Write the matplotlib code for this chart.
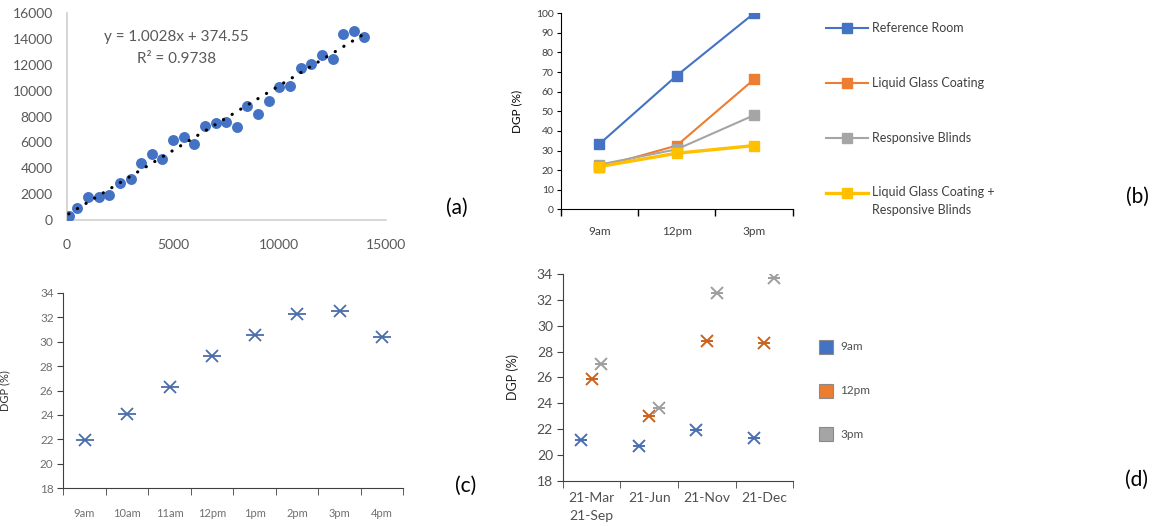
import numpy as np
import matplotlib
matplotlib.use("Agg")
import matplotlib.pyplot as plt
from matplotlib.patches import Rectangle
from matplotlib.lines import Line2D

plt.rcParams['font.family'] = ['Lato', 'DejaVu Sans']

# (a) measured vs simulated scatter
a_x = [100, 500, 1000, 1500, 2000, 2500, 3000, 3500, 4000, 4500, 5000, 5500, 6000, 6500, 7000,
       7500, 8000, 8500, 9000, 9500, 10000, 10500, 11000, 11500, 12000, 12500, 13000, 13500, 14000]
a_y = [300, 900, 1800, 1800, 1900, 2900, 3200, 4400, 5100, 4700, 6200, 6400, 5900, 7300, 7500,
       7600, 7200, 8800, 8200, 9200, 10300, 10400, 11800, 12100, 12800, 12500, 14400, 14600, 14200]
a_slope, a_icept, a_r2 = 1.0028, 374.55, 0.9738

# (b) DGP by time for four scenarios
b_times = ['9am', '12pm', '3pm']
b_series = ['Reference Room', 'Liquid Glass Coating', 'Responsive Blinds',
            'Liquid Glass Coating +\nResponsive Blinds']
b_values = [[33.3, 68.2, 100.0],
            [21.5, 32.5, 66.3],
            [22.8, 30.6, 48.0],
            [21.8, 28.6, 32.5]]
b_colors = ['#4472C4', '#ED7D31', '#A5A5A5', '#FFC000']

# (c) hourly DGP
c_hours = ['9am', '10am', '11am', '12pm', '1pm', '2pm', '3pm', '4pm']
c_dgp = [21.95, 24.08, 26.25, 28.8, 30.58, 32.28, 32.5, 30.4]

# (d) DGP by date and time
d_dates = ['21-Mar\n21-Sep', '21-Jun', '21-Nov', '21-Dec']
d_times = ['9am', '12pm', '3pm']
d_values = [[21.15, 20.68, 21.95, 21.28],
            [25.85, 23.0, 28.8, 28.65],
            [27.03, 23.6, 32.5, 33.72]]
d_marker_colors = ['#4A6FB0', '#C9621C', '#9E9E9E']
d_legend_colors = ['#4472C4', '#ED7D31', '#A5A5A5']

W, H = 1159, 526
fig = plt.figure(figsize=(W / 100, H / 100), dpi=100)


def px_axes(left, top, right, bottom):
    return fig.add_axes([left / W, 1 - bottom / H, (right - left) / W, (bottom - top) / H])


def fx(x):
    return x / W


def fy(y):
    return 1 - y / H


# ---------- (a) ----------
ax = px_axes(66.7, 13.3, 385.7, 220)
ax.scatter(a_x, a_y, s=62, color='#4472C4', zorder=3, linewidths=0)
xs = np.array([min(a_x), max(a_x)])
ax.plot(xs, a_slope * xs + a_icept, color='black', lw=2.3,
        linestyle=(0, (0.05, 3.1)), dash_capstyle='round', zorder=4)
ax.set_xlim(0, 15000)
ax.set_ylim(0, 16000)
ax.set_xticks([0, 5000, 10000, 15000])
ax.set_yticks(range(0, 16001, 2000))
for s in ['top', 'right']:
    ax.spines[s].set_visible(False)
for s in ['left', 'bottom']:
    ax.spines[s].set_color('#D0D0D0')
    ax.spines[s].set_linewidth(1.2)
ax.tick_params(length=0, labelsize=10, colors='#595959')
ax.tick_params(axis='x', pad=14)
ax.tick_params(axis='y', pad=10)
ax.text(0.345, 0.885, f'y = {a_slope}x + {a_icept}', transform=ax.transAxes,
        ha='center', va='center', fontsize=11, color='#595959')
ax.text(0.345, 0.78, f'R² = {a_r2}', transform=ax.transAxes,
        ha='center', va='center', fontsize=11, color='#595959')
fig.text(fx(457), fy(208), '(a)', fontsize=15, ha='center', va='center')

# ---------- (b) ----------
ax = px_axes(560.7, 13.3, 792.7, 209.3)
xb = np.arange(len(b_times))
for vals, col in zip(b_values, b_colors):
    lw = 2.4 if col == '#FFC000' else 1.5
    ax.plot(xb, vals, color=col, lw=lw, marker='s', markersize=6.5, zorder=3)
ax.set_xlim(-0.5, 2.5)
ax.set_ylim(0, 100)
ax.set_yticks(range(0, 101, 10))
ax.set_xticks(xb)
ax.set_xticklabels(b_times)
ax.set_xticks(np.arange(-0.5, 2.6, 1), minor=True)
for s in ['top', 'right']:
    ax.spines[s].set_visible(False)
ax.tick_params(axis='x', which='major', length=0, pad=12, labelsize=8.5, colors='#404040')
ax.tick_params(axis='x', which='minor', length=5, width=1)
ax.tick_params(axis='y', length=3, labelsize=7.5, colors='#404040', pad=2)
ax.tick_params(axis='both', which='both', color='black')
ax.set_ylabel('DGP (%)', fontsize=8.5)
ax.yaxis.set_label_coords(-0.165, 0.5)
# legend
leg_y = [28, 83, 138, 193]
for lab, col, y in zip(b_series, b_colors, leg_y):
    lw = 2.4 if col == '#FFC000' else 1.5
    fig.add_artist(Line2D([fx(826), fx(868)], [fy(y), fy(y)], color=col, lw=lw))
    fig.add_artist(Line2D([fx(847)], [fy(y)], color=col, marker='s', markersize=6.5))
    if '\n' in lab:
        fig.text(fx(872), fy(186), lab, fontsize=9, color='#404040', va='top', linespacing=1.65)
    else:
        fig.text(fx(872), fy(y), lab, fontsize=9, color='#404040', va='center')
fig.text(fx(1137), fy(197), '(b)', fontsize=15, ha='center', va='center')

# ---------- (c) ----------
ax = px_axes(63.3, 292.7, 403.3, 488.3)
xc = np.arange(len(c_hours))
ax.plot(xc, c_dgp, linestyle='none', marker='x', markersize=9, mew=1.3, color='#4A6DAA')
ax.plot(xc, c_dgp, linestyle='none', marker='_', markersize=13, mew=1.3, color='#4A6DAA')
ax.set_xlim(-0.5, 7.5)
ax.set_ylim(18, 34)
ax.set_yticks(range(18, 35, 2))
ax.set_xticks(xc)
ax.set_xticklabels(c_hours)
ax.set_xticks(np.arange(-0.5, 7.6, 1), minor=True)
for s in ['top', 'right']:
    ax.spines[s].set_visible(False)
for s in ['left', 'bottom']:
    ax.spines[s].set_color('#404040')
ax.tick_params(axis='x', which='major', length=0, pad=14, labelsize=8, colors='#707070')
ax.tick_params(axis='x', which='minor', length=5, color='#404040')
ax.tick_params(axis='y', length=4, labelsize=8.5, colors='#707070', pad=3)
ax.tick_params(axis='y', color='#404040')
ax.set_ylabel('DGP (%)', fontsize=8, color='#333333')
ax.yaxis.set_label_coords(-0.155, 0.5)
fig.text(fx(466), fy(486), '(c)', fontsize=15, ha='center', va='center')

# ---------- (d) ----------
ax = px_axes(562.7, 274, 793.3, 480.7)
xd = np.arange(len(d_dates))
offsets = [-0.18, 0.0, 0.17]
for vals, off, col in zip(d_values, offsets, d_marker_colors):
    ax.plot(xd + off, vals, linestyle='none', marker='x', markersize=8, mew=1.4, color=col)
    ax.plot(xd + off, vals, linestyle='none', marker='_', markersize=9, mew=1.4, color=col)
ax.set_xlim(-0.5, 3.5)
ax.set_ylim(18, 34)
ax.set_yticks(range(18, 35, 2))
ax.set_xticks(xd)
ax.set_xticklabels(d_dates, linespacing=1.6)
ax.set_xticks(np.arange(-0.5, 3.6, 1), minor=True)
for s in ['top', 'right']:
    ax.spines[s].set_visible(False)
for s in ['left', 'bottom']:
    ax.spines[s].set_color('#404040')
ax.tick_params(axis='x', which='major', length=0, pad=8, labelsize=10, colors='#505050')
ax.tick_params(axis='x', which='minor', length=5, color='#404040')
ax.tick_params(axis='y', length=4, labelsize=10, colors='#505050', pad=3)
ax.tick_params(axis='y', color='#404040')
ax.set_ylabel('DGP (%)', fontsize=9, color='#222222')
ax.yaxis.set_label_coords(-0.19, 0.5)
for lab, col, y in zip(d_times, d_legend_colors, [347, 391, 434]):
    fig.add_artist(Rectangle((fx(819), fy(y + 7)), fx(14), 14 / H, facecolor=col,
                             edgecolor='#8A8A8A', lw=0.8))
    fig.text(fx(840), fy(y), lab, fontsize=8.5, color='#505050', va='center')
fig.text(fx(1137), fy(480), '(d)', fontsize=15, ha='center', va='center')

fig.savefig('out.png', dpi=100)
